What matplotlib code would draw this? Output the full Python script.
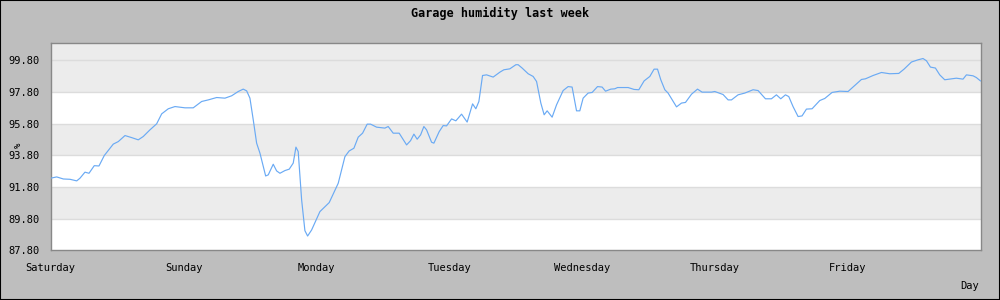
import numpy as np
import matplotlib
matplotlib.use("Agg")
import matplotlib.pyplot as plt

# ── Data (hours since Saturday 00:00, relative humidity %) ────────────────────
hours = [
    0, 1.08, 2.28, 3.49, 4.70, 5.29, 6.19, 6.92, 7.87, 8.72, 9.68, 11.30, 12.21,
    13.42, 14.63, 15.82, 16.72, 17.93, 19.14, 20.05, 21.24, 22.45, 24.25, 25.75,
    27.27, 28.46, 29.98, 31.48, 32.69, 33.88, 34.78, 35.40, 35.99, 36.59, 37.20,
    37.80, 38.83, 39.30, 40.20, 40.81, 41.41, 42.31, 43.09, 43.81, 44.30, 44.71,
    45.33, 45.92, 46.41, 47.13, 48.63, 50.31, 51.94, 53.15, 53.92, 54.77, 55.55,
    56.34, 57.17, 57.79, 58.87, 60.37, 60.97, 61.87, 62.95, 64.29, 65.01, 65.61,
    66.20, 66.82, 67.41, 67.90, 68.80, 69.22, 70.18, 70.90, 71.51, 72.42, 73.19,
    74.22, 75.23, 76.21, 76.80, 77.35, 78.01, 78.74, 79.93, 81.14, 81.86, 82.94,
    84.03, 84.44, 85.16, 86.25, 87.15, 87.77, 88.54, 89.14, 89.68, 90.58, 91.38,
    92.57, 93.47, 94.19, 94.99, 95.58, 96.18, 97.08, 97.81, 98.78, 99.61, 100.23,
    101.18, 101.90, 102.39, 104.31, 105.39, 106.24, 107.20, 108.23, 109.00,
    109.62, 110.21, 110.94, 111.53, 113.05, 113.95, 114.67, 115.76, 116.84,
    117.67, 119.37, 119.96, 121.46, 122.37, 122.98, 124.17, 125.38, 126.88,
    127.78, 129.12, 130.20, 131.10, 131.88, 132.73, 133.33, 134.10, 135.01,
    135.73, 136.52, 137.54, 138.93, 139.83, 141.15, 142.54, 144.04, 145.25,
    146.46, 147.18, 148.56, 150.07, 151.57, 153.20, 154.15, 155.49, 156.68,
    157.58, 158.20, 158.92, 159.82, 160.60, 161.50, 162.40, 163.61, 164.81,
    165.42, 166.62, 167.22, 167.95,
]
humidity = [
    92.35, 92.43, 92.30, 92.28, 92.18, 92.35, 92.73, 92.66, 93.14, 93.12, 93.78,
    94.50, 94.66, 95.04, 94.91, 94.77, 94.98, 95.40, 95.78, 96.41, 96.73, 96.87,
    96.79, 96.79, 97.19, 97.29, 97.44, 97.40, 97.55, 97.82, 97.97, 97.86, 97.40,
    96.03, 94.56, 93.93, 92.49, 92.56, 93.23, 92.81, 92.66, 92.83, 92.92, 93.30,
    94.31, 94.03, 90.98, 89.04, 88.70, 89.08, 90.24, 90.81, 92.03, 93.71, 94.07,
    94.24, 94.94, 95.19, 95.76, 95.76, 95.57, 95.51, 95.61, 95.19, 95.19, 94.45,
    94.72, 95.13, 94.81, 95.08, 95.61, 95.40, 94.62, 94.56, 95.29, 95.67, 95.65,
    96.09, 95.97, 96.39, 95.89, 97.04, 96.73, 97.19, 98.83, 98.87, 98.73, 99.04,
    99.19, 99.25, 99.51, 99.51, 99.30, 98.94, 98.77, 98.45, 97.09, 96.35, 96.60,
    96.20, 96.98, 97.88, 98.13, 98.10, 96.60, 96.60, 97.40, 97.72, 97.76, 98.13,
    98.10, 97.84, 97.97, 97.99, 98.07, 98.07, 97.95, 97.93, 98.49, 98.77, 99.23,
    99.23, 98.56, 97.93, 97.72, 96.85, 97.09, 97.13, 97.65, 97.97, 97.78, 97.78,
    97.82, 97.63, 97.29, 97.29, 97.61, 97.72, 97.93, 97.88, 97.36, 97.36,
    97.61, 97.36, 97.61, 97.50, 96.87, 96.24, 96.28, 96.71, 96.73, 97.25, 97.38,
    97.76, 97.84, 97.82, 98.20, 98.58, 98.62, 98.83, 99.02, 98.94, 98.96, 99.23,
    99.68, 99.82, 99.90, 99.76, 99.36, 99.30, 98.87, 98.56, 98.60, 98.66, 98.60,
    98.87, 98.81, 98.70, 98.49,
]
day_labels = ["Saturday", "Sunday", "Monday", "Tuesday",
              "Wednesday", "Thursday", "Friday"]
y_ticks = [87.8, 89.8, 91.8, 93.8, 95.8, 97.8, 99.8]

# ── Style ─────────────────────────────────────────────────────────────────────
BG      = "#bebebe"
BAND    = "#ececec"
GRID    = "#dcdcdc"
LINE    = "#6aaaf4"
FONT    = "DejaVu Sans Mono"
Y_MIN, Y_MAX = 87.8, 100.9

fig = plt.figure(figsize=(10, 3), dpi=100)
fig.patch.set_facecolor(BG)
ax = fig.add_axes([0.0507, 0.1657, 0.93, 0.692])
ax.set_facecolor("white")

# alternating bands (top band stays grey, as in the original)
band_edges = y_ticks + [Y_MAX]
for i in range(len(band_edges) - 1):
    if i % 2 == 1 or i == len(band_edges) - 2:
        ax.axhspan(band_edges[i], band_edges[i + 1], color=BAND, lw=0, zorder=0)
for yv in y_ticks[1:]:
    ax.axhline(yv, color=GRID, lw=1.0, zorder=1)

ax.plot(hours, humidity, color=LINE, lw=0.85, zorder=3)

ax.set_xlim(0, 168)
ax.set_ylim(Y_MIN, Y_MAX)
ax.set_xticks([24 * i for i in range(len(day_labels))])
ax.set_xticklabels(day_labels, fontfamily=FONT, fontsize=7.5)
ax.set_yticks(y_ticks)
ax.set_yticklabels([f"{v:.2f}" for v in y_ticks], fontfamily=FONT, fontsize=7.5)
ax.tick_params(axis="both", length=0, colors="black")
ax.tick_params(axis="x", pad=9)
ax.tick_params(axis="y", pad=8)
for sp in ax.spines.values():
    sp.set_color("#888888")
    sp.set_linewidth(1.0)

fig.text(0.5, 0.955, "Garage humidity last week", ha="center", va="center",
         fontfamily=FONT, fontsize=8.5, fontweight="bold")
fig.text(0.018, 0.515, "%", ha="center", va="center", rotation=90,
         fontfamily=FONT, fontsize=6.5)
fig.text(0.970, 0.047, "Day", ha="center", va="center",
         fontfamily=FONT, fontsize=7.5)

fig.patches.append(plt.Rectangle((0, 0), 1, 1, transform=fig.transFigure,
                                 fill=False, ec="black", lw=1.5))

fig.savefig("out.png", dpi=100, facecolor=BG)
